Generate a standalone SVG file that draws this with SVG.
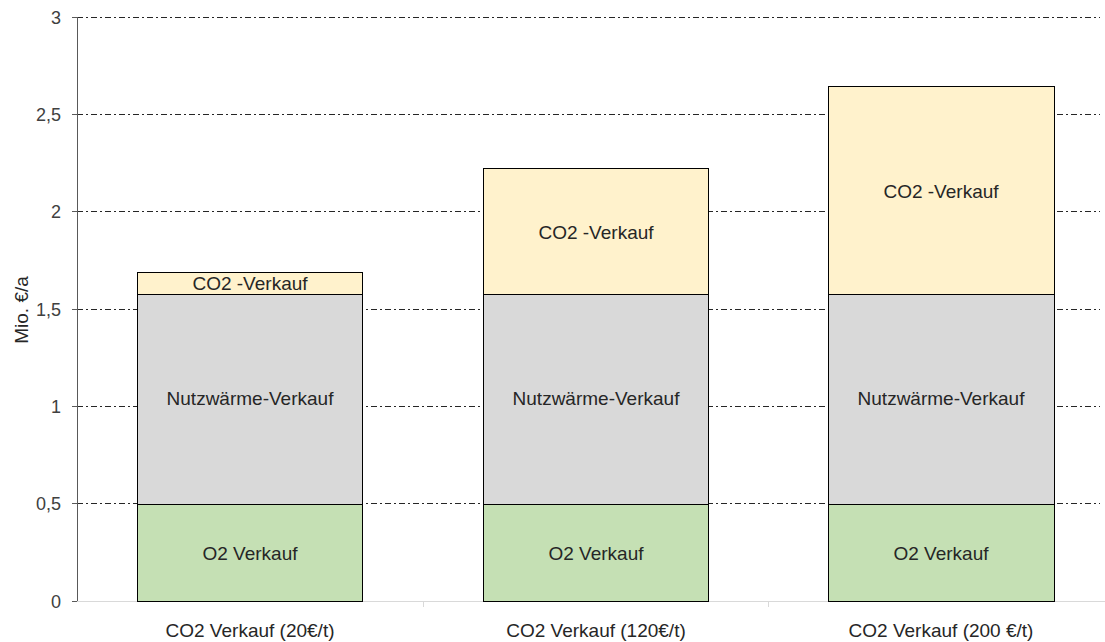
<svg xmlns="http://www.w3.org/2000/svg" width="1105" height="642" viewBox="0 0 1105 642">
<style>
.grid{stroke:#262626;stroke-width:1;stroke-dasharray:6 3 2 3;fill:none}
.tick{stroke:#595959;stroke-width:1}
.lbl{font-family:"Liberation Sans",Arial,sans-serif;font-size:19px;fill:#262626;text-anchor:middle}
.ylbl{font-family:"Liberation Sans",Arial,sans-serif;font-size:18px;fill:#404040;text-anchor:end}
.bar{stroke:#000;stroke-width:1}
.g{fill:#C5E0B4}.n{fill:#D9D9D9}.y{fill:#FFF2CC}
</style>
<rect width="1105" height="642" fill="#fff"/>
<g id="grid">
<line class="grid" x1="77" y1="17.5" x2="1100" y2="17.5"/>
<line class="grid" x1="77" y1="114.5" x2="1100" y2="114.5"/>
<line class="grid" x1="77" y1="211.5" x2="1100" y2="211.5"/>
<line class="grid" x1="77" y1="309.5" x2="1100" y2="309.5"/>
<line class="grid" x1="77" y1="406.5" x2="1100" y2="406.5"/>
<line class="grid" x1="77" y1="503.5" x2="1100" y2="503.5"/>
</g>
<g id="axes">
<line x1="77.5" y1="17" x2="77.5" y2="601" stroke="#595959"/>
<line x1="77" y1="601.5" x2="1105" y2="601.5" stroke="#D9D9D9"/>
<line x1="423.5" y1="601" x2="423.5" y2="607" stroke="#D9D9D9"/>
<line x1="768.5" y1="601" x2="768.5" y2="607" stroke="#D9D9D9"/>
<line class="tick" x1="72" y1="17.5" x2="77" y2="17.5"/>
<line class="tick" x1="72" y1="114.5" x2="77" y2="114.5"/>
<line class="tick" x1="72" y1="211.5" x2="77" y2="211.5"/>
<line class="tick" x1="72" y1="309.5" x2="77" y2="309.5"/>
<line class="tick" x1="72" y1="406.5" x2="77" y2="406.5"/>
<line class="tick" x1="72" y1="503.5" x2="77" y2="503.5"/>
<line class="tick" x1="72" y1="601.5" x2="77" y2="601.5"/>
<text class="ylbl" x="61" y="24">3</text>
<text class="ylbl" x="61" y="121">2,5</text>
<text class="ylbl" x="61" y="218">2</text>
<text class="ylbl" x="61" y="316">1,5</text>
<text class="ylbl" x="61" y="413">1</text>
<text class="ylbl" x="61" y="510">0,5</text>
<text class="ylbl" x="61" y="608">0</text>
<text class="lbl" transform="translate(28 310) rotate(-90)" fill="#404040">Mio. €/a</text>
</g>
<g id="bar1">
<rect class="bar g" x="137.5" y="504.5" width="225" height="97"/>
<rect class="bar n" x="137.5" y="294.5" width="225" height="210"/>
<rect class="bar y" x="137.5" y="272.5" width="225" height="22"/>
<text class="lbl" x="250" y="560">O2 Verkauf</text>
<text class="lbl" x="250" y="405">Nutzwärme-Verkauf</text>
<text class="lbl" x="250" y="290">CO2 -Verkauf</text>
<text class="lbl" x="250" y="637">CO2 Verkauf (20€/t)</text>
</g>
<g id="bar2">
<rect class="bar g" x="483.5" y="504.5" width="225" height="97"/>
<rect class="bar n" x="483.5" y="294.5" width="225" height="210"/>
<rect class="bar y" x="483.5" y="168.5" width="225" height="126"/>
<text class="lbl" x="596" y="560">O2 Verkauf</text>
<text class="lbl" x="596" y="405">Nutzwärme-Verkauf</text>
<text class="lbl" x="596" y="239">CO2 -Verkauf</text>
<text class="lbl" x="596" y="637">CO2 Verkauf (120€/t)</text>
</g>
<g id="bar3">
<rect class="bar g" x="828.5" y="504.5" width="226" height="97"/>
<rect class="bar n" x="828.5" y="294.5" width="226" height="210"/>
<rect class="bar y" x="828.5" y="86.5" width="226" height="208"/>
<text class="lbl" x="941" y="560">O2 Verkauf</text>
<text class="lbl" x="941" y="405">Nutzwärme-Verkauf</text>
<text class="lbl" x="941" y="198">CO2 -Verkauf</text>
<text class="lbl" x="941" y="637">CO2 Verkauf (200 €/t)</text>
</g>
</svg>
